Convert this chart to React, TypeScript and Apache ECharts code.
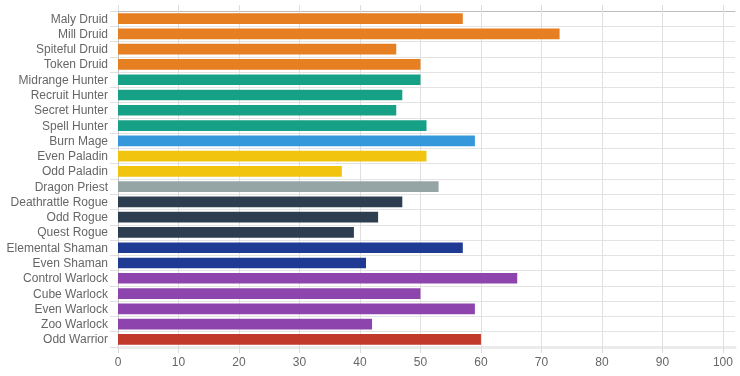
import React, { useEffect, useRef } from "react";
import * as echarts from "echarts";

const categories = [
  "Maly Druid", "Mill Druid", "Spiteful Druid", "Token Druid",
  "Midrange Hunter", "Recruit Hunter", "Secret Hunter", "Spell Hunter",
  "Burn Mage", "Even Paladin", "Odd Paladin", "Dragon Priest",
  "Deathrattle Rogue", "Odd Rogue", "Quest Rogue",
  "Elemental Shaman", "Even Shaman",
  "Control Warlock", "Cube Warlock", "Even Warlock", "Zoo Warlock",
  "Odd Warrior",
];
const values = [57, 73, 46, 50, 50, 47, 46, 51, 59, 51, 37, 53, 47, 43, 39, 57, 41, 66, 50, 59, 42, 60];
const classOf = [
  "Druid", "Druid", "Druid", "Druid",
  "Hunter", "Hunter", "Hunter", "Hunter",
  "Mage", "Paladin", "Paladin", "Priest",
  "Rogue", "Rogue", "Rogue",
  "Shaman", "Shaman",
  "Warlock", "Warlock", "Warlock", "Warlock",
  "Warrior",
];
const classColors: Record<string, string> = {
  Druid: "#e67e22",
  Hunter: "#16a085",
  Mage: "#3498db",
  Paladin: "#f1c40f",
  Priest: "#95a5a6",
  Rogue: "#2c3e50",
  Shaman: "#1f3a93",
  Warlock: "#8e44ad",
  Warrior: "#c0392b",
};
const xTicks = [0, 10, 20, 30, 40, 50, 60, 70, 80, 90, 100];
const xMax = 102;

export default function App() {
  const ref = useRef<HTMLDivElement>(null);
  useEffect(() => {
    if (!ref.current) return;
    const chart = echarts.init(ref.current, undefined, { renderer: "svg" });
    const font = "Liberation Sans, Arial, sans-serif";
    chart.setOption({
      animation: false,
      grid: { left: 118, right: 5, top: 11, bottom: 29, containLabel: false },
      xAxis: [
        {
          type: "value",
          position: "bottom",
          min: 0,
          max: xMax,
          interval: 10,
          axisLine: { show: true, lineStyle: { color: "#ebebeb", width: 3 } },
          axisTick: { show: true, length: 6, customValues: xTicks, lineStyle: { color: "#dcdcdc" } },
          axisLabel: { color: "#666", fontSize: 12, fontFamily: font, margin: 9, customValues: xTicks },
          splitLine: { show: false },
        },
        {
          type: "value",
          position: "top",
          min: 0,
          max: xMax,
          interval: 10,
          axisLine: { show: true, lineStyle: { color: "#bdbdbd", width: 1 } },
          axisTick: { show: true, length: 6, customValues: xTicks, lineStyle: { color: "#dcdcdc" } },
          axisLabel: { show: false },
          splitLine: { show: false },
        },
      ],
      yAxis: {
        type: "category",
        data: categories,
        inverse: true,
        axisLine: { show: true, lineStyle: { color: "#c8c8c8" } },
        axisTick: { show: true, interval: 0, length: 8, lineStyle: { color: "#e0e0e0" } },
        axisLabel: { color: "#666", fontSize: 12, fontFamily: font, margin: 10, interval: 0 },
        splitLine: { show: true, interval: 0, lineStyle: { color: "#e3e3e3" } },
      },
      series: [
        {
          type: "line",
          xAxisIndex: 0,
          data: [],
          z: 1,
          silent: true,
          markLine: {
            z: 1,
            silent: true,
            symbol: "none",
            label: { show: false },
            lineStyle: { color: "#e0e0e0", type: "solid", width: 1 },
            data: xTicks.filter((t) => t > 0).map((t) => ({ xAxis: t })),
          },
        },
        {
          type: "bar",
          xAxisIndex: 0,
          z: 10,
          barCategoryGap: "30%",
          data: values.map((v, i) => ({
            value: v,
            itemStyle: { color: classColors[classOf[i]] },
          })),
        },
      ],
    });
    return () => chart.dispose();
  }, []);
  return (
    <div
      ref={ref}
      style={{ position: "fixed", left: 0, top: 0, width: 740, height: 376 }}
    />
  );
}
